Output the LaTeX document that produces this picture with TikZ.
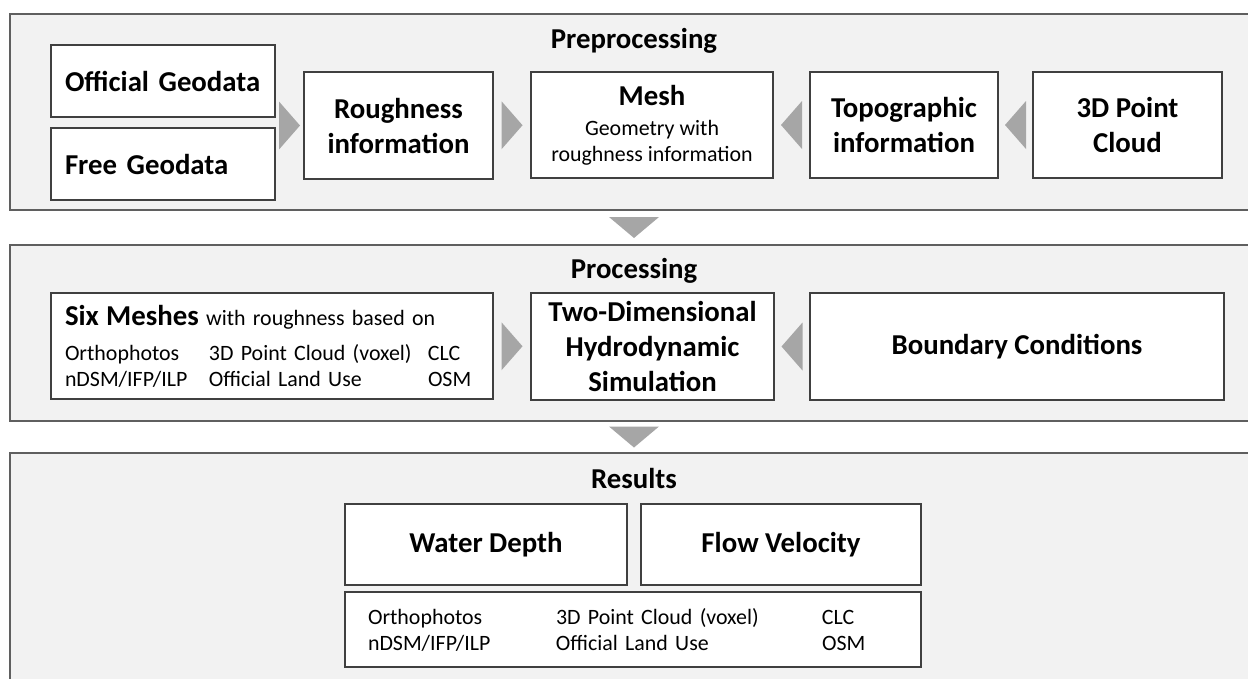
\documentclass[tikz,border=0pt]{standalone}
\usepackage{fontspec}
\setmainfont{Carlito}
\usetikzlibrary{calc}

\definecolor{panelgray}{HTML}{F2F2F2}
\definecolor{panelline}{HTML}{5F5F5F}
\definecolor{boxline}{HTML}{404040}
\definecolor{flowgray}{HTML}{A6A6A6}

\newcommand{\bigtxt}{\fontsize{28.8}{35}\selectfont\bfseries}
\newcommand{\smalltxt}{\fontsize{21.9}{26}\selectfont}
% grey triangles between the boxes, given their centre
\newcommand{\flowright}[1]{\fill[flow] ([shift={(-10.5pt,24pt)}]#1) -- ([xshift=10.5pt]#1) -- ([shift={(-10.5pt,-24pt)}]#1) -- cycle;}
\newcommand{\flowleft}[1]{\fill[flow] ([shift={(10.5pt,24pt)}]#1) -- ([xshift=-10.5pt]#1) -- ([shift={(10.5pt,-24pt)}]#1) -- cycle;}
\newcommand{\flowdown}[1]{\fill[flow] ([shift={(-25pt,10.5pt)}]#1) -- ([yshift=-10.5pt]#1) -- ([shift={(25pt,10.5pt)}]#1) -- cycle;}

\tikzset{
  panel/.style={draw=panelline, line width=1.6pt, fill=panelgray, inner sep=0pt},
  box/.style={draw=boxline, line width=1.3pt, fill=white, inner sep=0pt, align=center, font=\bigtxt},
  title/.style={font=\bigtxt, anchor=base},
  flow/.style={fill=flowgray}
}

\begin{document}
\begin{tikzpicture}[x=1pt,y=1pt]
    \useasboundingbox (0,0) rectangle (1248,-678);
    \fill[white] (0,0) rectangle (1248,-678);

    % three stages
    \node[panel, minimum width=1248pt, minimum height=196pt] (prepanel) at (634,-112) {};
    \node[panel, minimum width=1248pt, minimum height=176pt] (propanel) at (634,-333) {};
    \node[panel, minimum width=1248pt, minimum height=260pt] (respanel) at (634,-583) {};
    \node[title] (pretitle) at (634,-48) {Preprocessing};
    \node[title] (protitle) at (634,-278) {Processing};
    \node[title] (restitle) at (634,-488) {Results};

    % preprocessing
    \node[box, minimum width=224pt, minimum height=72pt, text width=196pt, align=left] (offgeo) at (163,-81) {Official Geodata};
    \node[box, minimum width=224pt, minimum height=72pt, text width=196pt, align=left] (freegeo) at (163,-164) {Free Geodata};
    \node[box, minimum width=189pt, minimum height=107pt] (rough) at (398.5,-125.5) {Roughness\\information};
    \node[box, minimum width=242pt, minimum height=106pt, font=\smalltxt] (mesh) at (652,-125) {{\bigtxt Mesh}\\[4pt]Geometry with\\roughness information};
    \node[box, minimum width=188pt, minimum height=106pt] (topo) at (904,-125) {Topographic\\information};
    \node[box, minimum width=189pt, minimum height=106pt] (cloud) at (1127.5,-125) {3D Point\\Cloud};

    % processing
    \node[box, minimum width=442pt, minimum height=106pt, text width=414pt, align=left, font=\smalltxt] (sixmesh) at (272,-346) {{\bigtxt Six Meshes} with roughness based on\\[9pt]\makebox[144pt][l]{Orthophotos}\makebox[219pt][l]{3D Point Cloud (voxel)}CLC\\\makebox[144pt][l]{nDSM/IFP/ILP}\makebox[219pt][l]{Official Land Use}OSM};
    \node[box, minimum width=243pt, minimum height=107pt] (sim) at (652.5,-346.5) {Two-Dimensional\\Hydrodynamic\\Simulation};
    \node[box, minimum width=414pt, minimum height=107pt] (bound) at (1017,-346.5) {Boundary Conditions};

    % results
    \node[box, minimum width=282pt, minimum height=81pt] (depth) at (486,-544.5) {Water Depth};
    \node[box, minimum width=280pt, minimum height=81pt] (velo) at (781,-544.5) {Flow Velocity};
    \node[box, minimum width=576pt, minimum height=75pt, text width=530pt, align=left, font=\smalltxt] (legend) at (633,-629.5) {\makebox[188pt][l]{Orthophotos}\makebox[266pt][l]{3D Point Cloud (voxel)}CLC\\\makebox[188pt][l]{nDSM/IFP/ILP}\makebox[266pt][l]{Official Land Use}OSM};

    % flow between boxes
    \coordinate (f1) at ($(offgeo.east |- rough.west)!.5!(rough.west)$);
    \coordinate (f2) at ($(rough.east)!.5!(mesh.west)$);
    \coordinate (f3) at ($(mesh.east)!.5!(topo.west)$);
    \coordinate (f4) at ($(topo.east)!.5!(cloud.west)$);
    \coordinate (f5) at ($(sixmesh.east)!.5!(sim.west)$);
    \coordinate (f6) at ($(sim.east)!.5!(bound.west)$);
    \coordinate (d1) at ($(prepanel.south)!.5!(propanel.north)$);
    \coordinate (d2) at ($(propanel.south)!.5!(respanel.north)$);
    \flowright{f1}
    \flowright{f2}
    \flowleft{f3}
    \flowleft{f4}
    \flowright{f5}
    \flowleft{f6}
    \flowdown{d1}
    \flowdown{d2}
\end{tikzpicture}
\end{document}
